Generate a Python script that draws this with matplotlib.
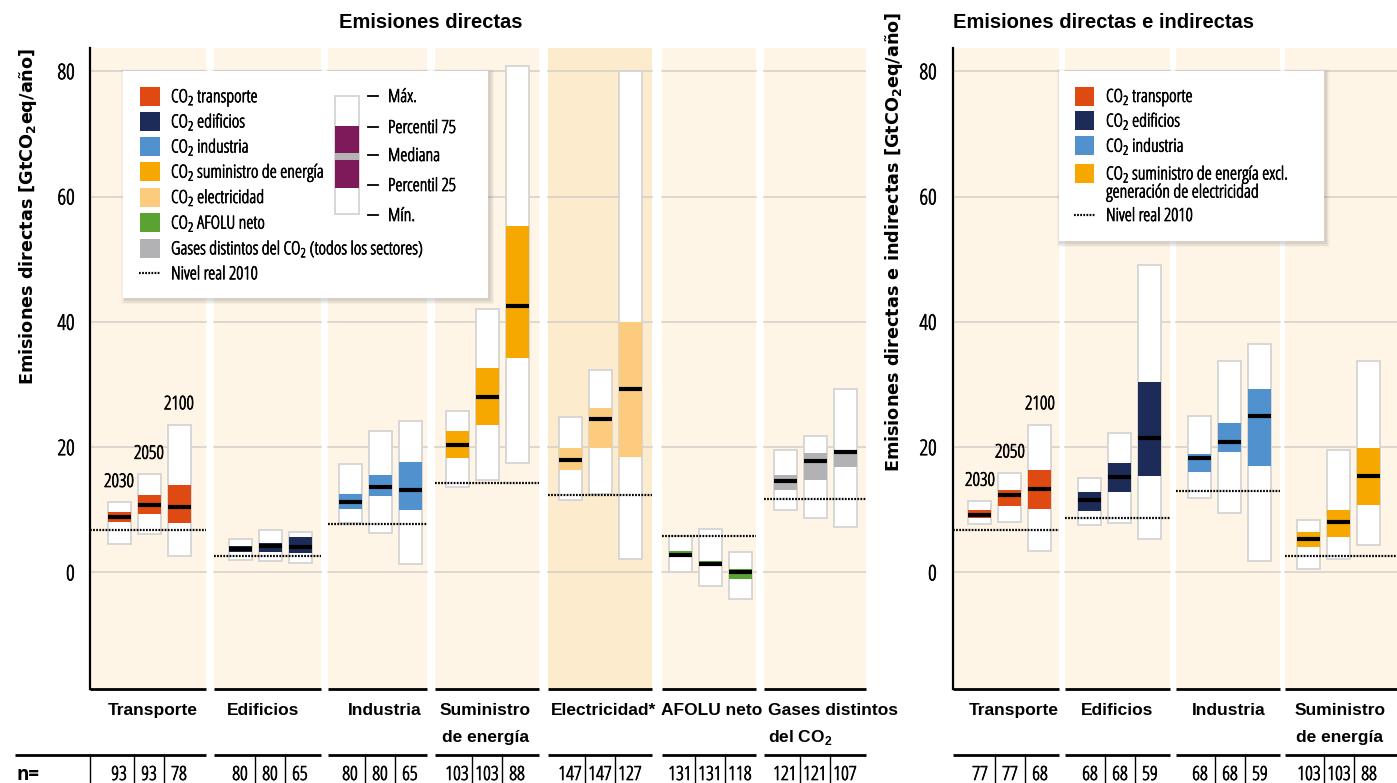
import matplotlib.pyplot as plt
import matplotlib.patheffects as pe
from matplotlib import transforms
from matplotlib.lines import Line2D
from matplotlib.patches import Rectangle

plt.rcParams['font.family'] = ['Open Sans', 'DejaVu Sans']
plt.rcParams['font.stretch'] = 'condensed'

W, H = 1397, 783
SUB2 = r'$_\mathregular{2}$'
# the condensed face is a light cut; a hairline stroke gives it regular weight
THICK = [pe.withStroke(linewidth=0.5, foreground='black')]

# ---- data: direct emissions (GtCO2eq/yr), boxes for 2030 / 2050 / 2100 ----
years = ['2030', '2050', '2100']

direct_sectors = ['Transporte', 'Edificios', 'Industria', 'Suministro\nde energía',
                  'Electricidad*', 'AFOLU neto', 'Gases distintos\ndel CO' + SUB2]
direct_min = [[4.6, 6.2, 2.6], [2.0, 1.9, 1.5], [7.9, 6.3, 1.3], [13.7, 14.8, 17.5],
              [11.5, 12.5, 2.1], [0.0, -2.2, -4.3], [9.9, 8.7, 7.3]]
direct_p25 = [[8.0, 9.3, 7.9], [3.2, 3.2, 3.1], [10.1, 12.2, 10.0], [18.2, 23.6, 34.3],
              [16.4, 19.9, 18.5], [2.4, 1.0, -1.0], [13.1, 14.7, 16.8]]
direct_med = [[8.8, 10.8, 10.5], [3.7, 4.2, 4.0], [11.2, 13.6, 13.1], [20.4, 28.0, 42.5],
              [18.0, 24.5, 29.2], [2.8, 1.3, 0.1], [14.6, 17.8, 19.2]]
direct_p75 = [[9.6, 12.3, 13.9], [4.3, 4.7, 5.7], [12.6, 15.6, 17.7], [22.6, 32.7, 55.3],
              [19.8, 26.3, 39.9], [3.5, 1.9, 0.6], [15.6, 19.1, 19.6]]
direct_max = [[11.2, 15.7, 23.6], [5.4, 6.7, 6.4], [17.3, 22.5, 24.2], [25.8, 42.1, 80.9],
              [24.8, 32.3, 80.1], [5.8, 7.0, 3.3], [19.6, 21.8, 29.3]]
direct_2010 = [6.7, 2.6, 7.8, 14.2, 12.4, 5.8, 11.8]
direct_n = [[93, 93, 78], [80, 80, 65], [80, 80, 65], [103, 103, 88],
            [147, 147, 127], [131, 131, 118], [121, 121, 107]]

# ---- data: direct + indirect emissions ----
total_sectors = ['Transporte', 'Edificios', 'Industria', 'Suministro\nde energía']
total_min = [[7.7, 8.0, 3.4], [7.5, 7.9, 5.3], [11.9, 9.5, 1.8], [0.6, 2.2, 4.4]]
total_p25 = [[8.7, 10.6, 10.1], [9.8, 12.8, 15.4], [16.1, 19.3, 17.0], [4.0, 5.6, 10.7]]
total_med = [[9.2, 12.3, 13.3], [11.5, 15.3, 21.4], [18.3, 20.8, 24.9], [5.3, 8.0, 15.4]]
total_p75 = [[10.0, 13.2, 16.3], [12.8, 17.4, 30.4], [18.9, 23.8, 29.2], [6.4, 10.0, 19.9]]
total_max = [[11.4, 15.9, 23.6], [15.0, 22.3, 49.0], [24.9, 33.7, 36.5], [8.4, 19.6, 33.8]]
total_2010 = [6.8, 8.7, 13.0, 2.7]
total_n = [[77, 77, 68], [68, 68, 59], [68, 68, 59], [103, 103, 88]]

# ---- colours ----
C_TRANS, C_BUILD, C_IND = '#DE4A12', '#1C2B58', '#5192CE'
C_ENERGY, C_ELEC, C_AFOLU, C_GAS = '#F6A800', '#FDCB7E', '#5AA333', '#B2B2B4'
BG, BG_ELEC = '#FEF5E7', '#FDEBCD'

direct_colors = [C_TRANS, C_BUILD, C_IND, C_ENERGY, C_ELEC, C_AFOLU, C_GAS]
direct_bg = [BG, BG, BG, BG, BG_ELEC, BG, BG]
total_colors = [C_TRANS, C_BUILD, C_IND, C_ENERGY]
total_bg = [BG] * 4

# ---- layout (figure pixels) ----
left_panels = [(90, 206), (214, 321), (328, 427), (435, 539), (548, 652), (662, 756), (764, 866)]
left_centers = [149, 270, 380, 487, 600, 710, 815]
left_label_x = [152.7, 263, 385, 485, 603.5, 711.5, 767.7]
right_panels = [(952.7, 1058.7), (1064.7, 1170.3), (1176.3, 1279.7), (1285.3, 1397)]
right_centers = [1010, 1120, 1230, 1339]
right_label_x = [1014, 1117, 1229, 1340]
STEP, BOX_W = 30, 23
AX_TOP, AX_BOT = 48, 689
YMIN, YMAX = -18.6, 83.7
TXT = 13

fig = plt.figure(figsize=(W / 100, H / 100), dpi=100)
px = transforms.Affine2D().scale(1 / W, -1 / H).translate(0, 1) + fig.transFigure


def make_axes(x0, x1, pad):
    ax = fig.add_axes([x0 / W, 1 - AX_BOT / H, (x1 - x0) / W, (AX_BOT - AX_TOP) / H])
    ax.set_xlim(x0, x1)
    ax.set_ylim(YMIN, YMAX)
    ax.patch.set_visible(False)
    for s in ['top', 'right', 'bottom']:
        ax.spines[s].set_visible(False)
    ax.spines['left'].set_linewidth(1.6)
    ax.spines['left'].set_zorder(7)
    ax.set_xticks([])
    ax.set_yticks([0, 20, 40, 60, 80])
    ax.tick_params(axis='y', length=0, pad=pad, labelsize=15.5)
    return ax


def draw_boxes(ax, panels, centers, bgs, colors, mins, p25s, meds, p75s, maxs, levels):
    for k, (x0, x1) in enumerate(panels):
        ax.axvspan(x0, x1, color=bgs[k], lw=0, zorder=0)
        for g in (0, 20, 40, 60, 80):
            ax.plot([x0, x1], [g, g], color='#D3CFC8', lw=1.1, zorder=1)
        ax.plot([x0, x1], [YMIN, YMIN], color='k', lw=2, zorder=7,
                clip_on=False, solid_capstyle='butt')
        for j in range(3):
            xc = centers[k] + (j - 1) * STEP
            ax.add_patch(Rectangle((xc - BOX_W / 2, mins[k][j]), BOX_W,
                                   maxs[k][j] - mins[k][j], facecolor='white',
                                   edgecolor='#D4D4D4', lw=1.3, zorder=2))
            ax.add_patch(Rectangle((xc - BOX_W / 2, p25s[k][j]), BOX_W,
                                   p75s[k][j] - p25s[k][j], facecolor=colors[k],
                                   lw=0, zorder=3))
            ax.plot([xc - BOX_W / 2, xc + BOX_W / 2], [meds[k][j]] * 2, color='k',
                    lw=3, solid_capstyle='butt', zorder=4)
        ax.plot([x0, x1], [levels[k]] * 2, color='k', lw=1.6,
                ls=(0, (0.8, 0.6)), zorder=5)


def year_labels(ax, xc, maxs):
    for j, yr in enumerate(years):
        ax.annotate(yr, (xc + (j - 1) * STEP, maxs[j]), xytext=(0, 11),
                    textcoords='offset points', ha='center', va='baseline',
                    fontsize=13.5, path_effects=THICK)


def n_row(panels, centers, counts, label_x, labels, first_x0):
    for k, (x0, x1) in enumerate(panels):
        start = first_x0 if k == 0 else x0
        fig.add_artist(Line2D([start, x1], [755, 755], transform=px, color='k',
                              lw=2, solid_capstyle='butt'))
        for j in range(3):
            xc = centers[k] + (j - 1) * STEP
            fig.text(xc, 780, str(counts[k][j]), transform=px, ha='center',
                     va='baseline', fontsize=14, path_effects=THICK)
            if j > 0:
                fig.add_artist(Line2D([xc - STEP / 2] * 2, [755, 783], transform=px,
                                      color='k', lw=1))
        ha = 'left' if labels[k].startswith('Gases') else 'center'
        for i, line in enumerate(labels[k].split('\n')):
            fig.text(label_x[k], 715 + i * 26.7, line, transform=px, ha=ha,
                     va='baseline', family='Liberation Sans', stretch='normal',
                     weight='bold', fontsize=12.5)


axL = make_axes(90, 866, 11)
axR = make_axes(952.7, 1397, 11.5)

draw_boxes(axL, left_panels, left_centers, direct_bg, direct_colors, direct_min,
           direct_p25, direct_med, direct_p75, direct_max, direct_2010)
draw_boxes(axR, right_panels, right_centers, total_bg, total_colors, total_min,
           total_p25, total_med, total_p75, total_max, total_2010)
year_labels(axL, left_centers[0], direct_max[0])
year_labels(axR, right_centers[0], total_max[0])

n_row(left_panels, left_centers, direct_n, left_label_x, direct_sectors, 15)
n_row(right_panels, right_centers, total_n, right_label_x, total_sectors, 952.7)
fig.add_artist(Line2D([90, 90], [755, 783], transform=px, color='k', lw=1))
fig.text(17, 780, 'n=', transform=px, ha='left', va='baseline', fontsize=13.5,
         weight='bold')

# titles and axis labels
fig.text(431, 22, 'Emisiones directas', transform=px, ha='center', va='center',
         family='Liberation Sans', stretch='normal', weight='bold', fontsize=14.5)
fig.text(952.7, 22, 'Emisiones directas e indirectas', transform=px, ha='left',
         va='center', family='Liberation Sans', stretch='normal', weight='bold',
         fontsize=14.5)
fig.text(28, 48, 'Emisiones directas [GtCO' + SUB2 + 'eq/año]', transform=px,
         rotation=90, ha='center', va='top', family='DejaVu Sans', stretch='normal',
         weight='bold', fontsize=12.7)
fig.text(894, 12, 'Emisiones directas e indirectas [GtCO' + SUB2 + 'eq/año]',
         transform=px, rotation=90, ha='center', va='top', family='DejaVu Sans',
         stretch='normal', weight='bold', fontsize=12.7)


# legends
def legend_frame(x0, y0, x1, y1):
    for d, a in [(4, 0.03), (2.5, 0.05), (1.2, 0.07)]:
        fig.add_artist(Rectangle((x0 - d + 2, y0 - d + 2), x1 - x0 + 2 * d, y1 - y0 + 2 * d,
                                 transform=px, facecolor='k', alpha=a, lw=0, zorder=8))
    fig.add_artist(Rectangle((x0, y0), x1 - x0, y1 - y0, transform=px,
                             facecolor='white', lw=0, zorder=9))


def legend_text(x, y, s):
    fig.text(x, y, s, transform=px, ha='left', va='baseline', fontsize=TXT,
             zorder=10, path_effects=THICK)


def legend_entries(x_sq, x_txt, rows, labels, colors):
    for y, lab, col in zip(rows, labels, colors):
        if col is None:
            fig.add_artist(Line2D([x_sq - 1, x_sq + 20], [y, y], transform=px, color='k',
                                  lw=1.6, ls=(0, (0.8, 0.6)), zorder=10))
        else:
            fig.add_artist(Rectangle((x_sq, y - 9.5), 19.5, 19, transform=px,
                                     facecolor=col, lw=0, zorder=10))
        legend_text(x_txt, y + 6, lab)


legend_frame(123, 71, 488, 298)
legend_entries(140, 171, [96.3, 121.5, 146.5, 171.7, 197, 222.7, 248.3, 273.3],
               ['CO' + SUB2 + ' transporte', 'CO' + SUB2 + ' edificios',
                'CO' + SUB2 + ' industria', 'CO' + SUB2 + ' suministro de energía',
                'CO' + SUB2 + ' electricidad', 'CO' + SUB2 + ' AFOLU neto',
                'Gases distintos del CO' + SUB2 + ' (todos los sectores)',
                'Nivel real 2010'],
               [C_TRANS, C_BUILD, C_IND, C_ENERGY, C_ELEC, C_AFOLU, C_GAS, None])

# box-plot key
fig.add_artist(Rectangle((335, 96), 24, 118, transform=px, facecolor='white',
                         edgecolor='#D4D4D4', lw=1.3, zorder=10))
fig.add_artist(Rectangle((335, 126), 24, 62, transform=px, facecolor='#7F1A5A',
                         lw=0, zorder=11))
fig.add_artist(Rectangle((335, 152.5), 24, 7, transform=px, facecolor='#B3B3B3',
                         lw=0, zorder=12))
for y, lab in zip([96, 127, 155, 185, 215],
                  ['Máx.', 'Percentil 75', 'Mediana', 'Percentil 25', 'Mín.']):
    fig.add_artist(Line2D([368, 378], [y, y], transform=px, color='k', lw=1.3, zorder=10))
    legend_text(388, y + 6, lab)

legend_frame(1058.5, 71, 1323.6, 241)
legend_entries(1074.5, 1106, [96, 120.7, 145.7, 173.5, 215],
               ['CO' + SUB2 + ' transporte', 'CO' + SUB2 + ' edificios',
                'CO' + SUB2 + ' industria', 'CO' + SUB2 + ' suministro de energía excl.',
                'Nivel real 2010'],
               [C_TRANS, C_BUILD, C_IND, C_ENERGY, None])
legend_text(1106, 197.5, 'generación de electricidad')

# tick labels exist only after a first draw; give them the same weight
fig.canvas.draw()
for ax in (axL, axR):
    for tick in ax.yaxis.get_major_ticks():
        tick.label1.set_path_effects(THICK)

fig.savefig('out.png', dpi=100)
